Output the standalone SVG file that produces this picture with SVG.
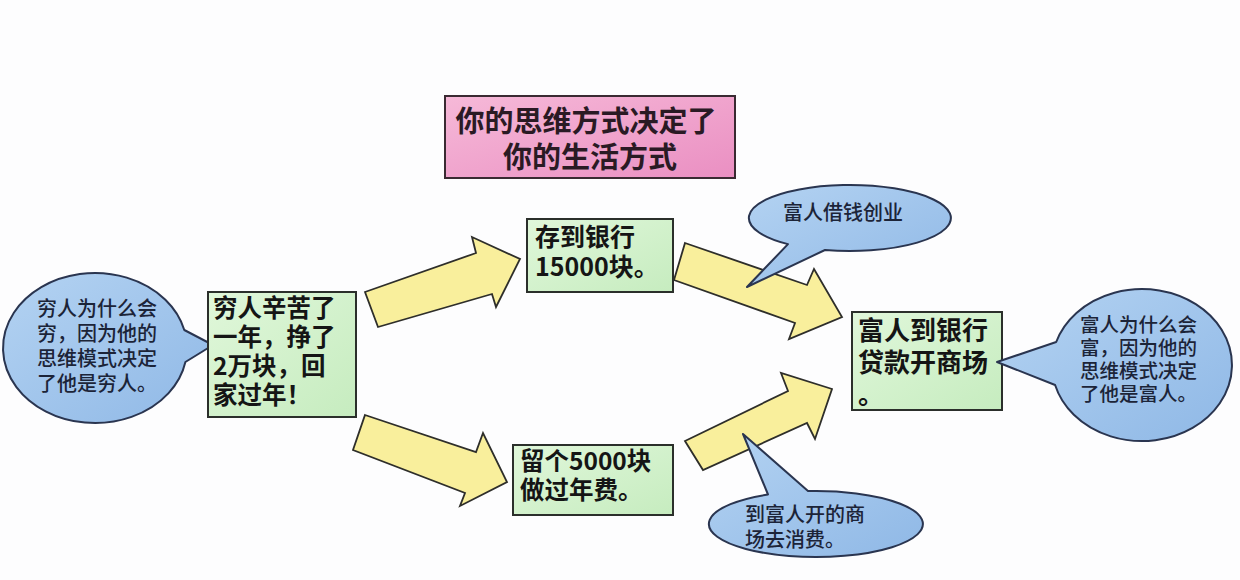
<svg xmlns="http://www.w3.org/2000/svg" width="1240" height="580" viewBox="0 0 1240 580">
  <defs>
    <linearGradient id="gPink" x1="0" y1="0" x2="1" y2="1">
      <stop offset="0" stop-color="#f6b9d8"/>
      <stop offset="1" stop-color="#ea8fc2"/>
    </linearGradient>
    <linearGradient id="gGreen" x1="0" y1="0" x2="1" y2="1">
      <stop offset="0" stop-color="#e0f7da"/>
      <stop offset="1" stop-color="#c6ecbf"/>
    </linearGradient>
    <linearGradient id="gBlue" x1="0" y1="0" x2="1" y2="1">
      <stop offset="0" stop-color="#b4d3f2"/>
      <stop offset="1" stop-color="#8fb8e6"/>
    </linearGradient>
    <style>
      .box { fill: url(#gGreen); stroke: #2b2f2b; stroke-width: 2; }
      .title { fill: url(#gPink); stroke: #3a2a32; stroke-width: 2; }
      .bubble { fill: url(#gBlue); stroke: #2a3550; stroke-width: 2; stroke-linejoin: round; }
      .arrow { fill: #f9ef9c; stroke: #2e2e2a; stroke-width: 1.8; stroke-linejoin: miter; }
      .t { font-family: "Noto Sans CJK SC", "Noto Sans", sans-serif; fill: #151515; font-weight: 700; font-size: 25px; }
      .tt { font-family: "Noto Sans CJK SC", "Noto Sans", sans-serif; fill: #2a1a24; font-weight: 700; font-size: 29px; text-anchor: middle; }
      .bt { font-family: "Noto Sans CJK SC", "Noto Sans", sans-serif; fill: #1c2438; font-weight: 500; font-size: 20px; }
    </style>
  </defs>

  <rect x="0" y="0" width="1240" height="580" fill="#fdfdfe"/>

  <g id="title-node">
    <rect class="title" x="445" y="96" width="290" height="82"/>
    <text class="tt"><tspan x="586" y="132">你的思维方式决定了</tspan><tspan x="590" y="168">你的生活方式</tspan></text>
  </g>

  <g id="connectors">
    <polygon class="arrow" points="365,292 476,253 472,237 520,259 496,307 492,294 378,327"/>
    <polygon class="arrow" points="365,415 476,452 483,433 507,482 460,506 465,493 353,450"/>
    <polygon class="arrow" points="685,243 807,285 814,269 842,317 789,339 795,323 674,280"/>
    <polygon class="arrow" points="685,441 788,391 781,373 832,389 815,439 807,423 703,470"/>
  </g>

  <g id="bubble-poor">
    <path class="bubble" d="M 184.3 330 A 92 75 0 1 0 185.4 362 L 213 345 Z"/>
    <text class="bt"><tspan x="37" y="316">穷人为什么会</tspan><tspan x="37" y="341">穷，因为他的</tspan><tspan x="37" y="366">思维模式决定</tspan><tspan x="37" y="391">了他是穷人。</tspan></text>
  </g>

  <g id="node-start">
    <rect class="box" x="208" y="292" width="148" height="125"/>
    <text class="t" style="font-size:24.5px"><tspan x="213" y="317">穷人辛苦了</tspan><tspan x="213" y="346">一年，挣了</tspan><tspan x="213" y="375">2万块，回</tspan><tspan x="213" y="404">家过年！</tspan></text>
  </g>

  <g id="node-save">
    <rect class="box" x="527" y="219" width="146" height="73"/>
    <text class="t"><tspan x="535" y="246">存到银行</tspan><tspan x="535" y="276">15000块。</tspan></text>
  </g>

  <g id="node-keep">
    <rect class="box" x="513" y="445" width="160" height="70"/>
    <text class="t" style="font-size:24.5px"><tspan x="520" y="470">留个5000块</tspan><tspan x="520" y="499">做过年费。</tspan></text>
  </g>

  <g id="node-rich">
    <rect class="box" x="852" y="312" width="150" height="98"/>
    <text class="t" style="font-size:26px"><tspan x="858" y="340">富人到银行</tspan><tspan x="858" y="372">贷款开商场</tspan><tspan x="858" y="404">。</tspan></text>
  </g>

  <g id="bubble-borrow">
    <path class="bubble" d="M 788 244.1 A 101 33 0 1 1 825 250 L 747 287 Z"/>
    <text class="bt" x="843" y="220" style="text-anchor:middle">富人借钱创业</text>
  </g>

  <g id="bubble-spend">
    <path class="bubble" d="M 808 491.1 A 107 33 0 1 1 768 494.5 L 743 434 Z"/>
    <text class="bt"><tspan x="745" y="522">到富人开的商</tspan><tspan x="745" y="547">场去消费。</tspan></text>
  </g>

  <g id="bubble-rich">
    <path class="bubble" d="M 1056.2 342 A 90 76 0 1 1 1055.1 385 L 997 362 Z"/>
    <text class="bt" style="font-size:19.5px"><tspan x="1080" y="332">富人为什么会</tspan><tspan x="1080" y="355">富，因为他的</tspan><tspan x="1080" y="378">思维模式决定</tspan><tspan x="1080" y="401">了他是富人。</tspan></text>
  </g>
</svg>
